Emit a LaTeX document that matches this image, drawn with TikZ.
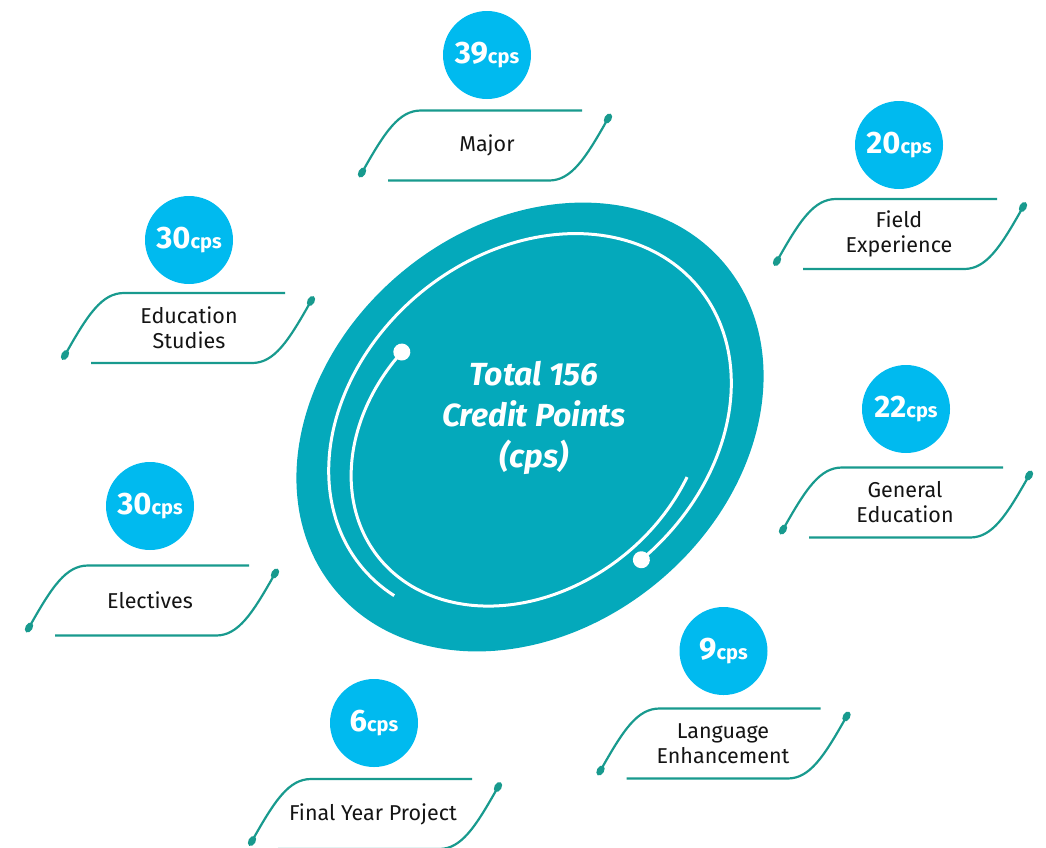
\documentclass[tikz,border=0pt]{standalone}
\usepackage{fontspec}
\setmainfont{Fira Sans}
\definecolor{blobcol}{RGB}{4,169,187}
\definecolor{badgecol}{RGB}{0,186,239}
\definecolor{framecol}{RGB}{24,154,142}
\definecolor{inkcol}{RGB}{20,20,20}
\tikzset{
  framestroke/.style={draw=framecol, line width=2.2pt},
  badgecirc/.style={circle, fill=badgecol, minimum size=88pt, inner sep=0pt, text=white, text depth=0pt},
  lbl/.style={align=center, text=inkcol, font=\fontsize{21.5}{25}\selectfont},
  whiteline/.style={draw=white, line width=3pt},
  pics/lblframe/.style={code={
     \draw[framestroke] (97,35) -- (-64,35) .. controls (-86,35) and (-100,14) .. (-123,-27);
     \draw[framestroke] (-97,-35) -- (64,-35) .. controls (86,-35) and (100,-14) .. (123,27);
     \fill[framecol, rotate around={60:(-123,-27)}] (-123,-27) ellipse [x radius=5.5pt, y radius=3.6pt];
     \fill[framecol, rotate around={60:(123,27)}] (123,27) ellipse [x radius=5.5pt, y radius=3.6pt];
  }}
}
\newcommand{\cpsbadge}[1]{\raisebox{4pt}{\fontsize{31}{31}\selectfont\bfseries #1\fontsize{20}{20}\selectfont cps}}
\begin{document}
\begin{tikzpicture}[x=1pt,y=1pt]
\useasboundingbox (0,0) rectangle (1046,-847);

% central blob
\fill[blobcol, rotate around={40:(530,-427)}] (530,-427) ellipse [x radius=254pt, y radius=201pt];
\begin{scope}[shift={(530,-427)}, rotate=40]
  \draw[whiteline] plot[domain=194:-90, samples=150] ({0.862*254*cos(\x)}, {0.862*201*sin(\x)});
  \draw[whiteline] plot[domain=105.8:296.6, samples=150]
    ({(0.723+0.2335*((\x-105.8)/190.8)-0.1815*((\x-105.8)/190.8)^2)*254*cos(\x)},
     {(0.723+0.2335*((\x-105.8)/190.8)-0.1815*((\x-105.8)/190.8)^2)*201*sin(\x)});
  \fill[white] ({0.862*254*cos(-90)},{0.862*201*sin(-90)}) circle[radius=8.5pt];
  \fill[white] ({0.723*254*cos(105.8)},{0.723*201*sin(105.8)}) circle[radius=8.5pt];
\end{scope}
\node[text=white, align=center, font=\fontsize{32}{41}\selectfont\bfseries\itshape] (total) at (534,-418) {Total 156\\Credit Points\\(cps)};

% Major
\pic at (485,-145.5) {lblframe};
\node[lbl] (major) at (487,-145.5) {Major};
\node[badgecirc] (b1) at (487,-55) {\cpsbadge{39}};

% Field Experience
\pic at (900,-234) {lblframe};
\node[lbl] (field) at (899,-234) {Field\\Experience};
\node[badgecirc] (b2) at (899,-145) {\cpsbadge{20}};

% Education Studies
\pic at (188,-328) {lblframe};
\node[lbl] (edu) at (189,-328) {Education\\Studies};
\node[badgecirc] (b3) at (189,-240) {\cpsbadge{30}};

% General Education
\pic at (906,-502.5) {lblframe};
\node[lbl] (gen) at (905,-502.5) {General\\Education};
\node[badgecirc] (b4) at (906,-409) {\cpsbadge{22}};

% Electives
\pic at (152,-600.5) {lblframe};
\node[lbl] (elec) at (150,-600.5) {Electives};
\node[badgecirc] (b5) at (150,-506) {\cpsbadge{30}};

% Language Enhancement
\pic at (723.5,-743.5) {lblframe};
\node[lbl] (lang) at (723,-743.5) {Language\\Enhancement};
\node[badgecirc] (b6) at (723.5,-651) {\cpsbadge{9}};

% Final Year Project
\pic at (375,-814) {lblframe};
\node[lbl] (fyp) at (373,-814) {Final Year Project};
\node[badgecirc] (b7) at (374,-723) {\cpsbadge{6}};
\end{tikzpicture}
\end{document}
